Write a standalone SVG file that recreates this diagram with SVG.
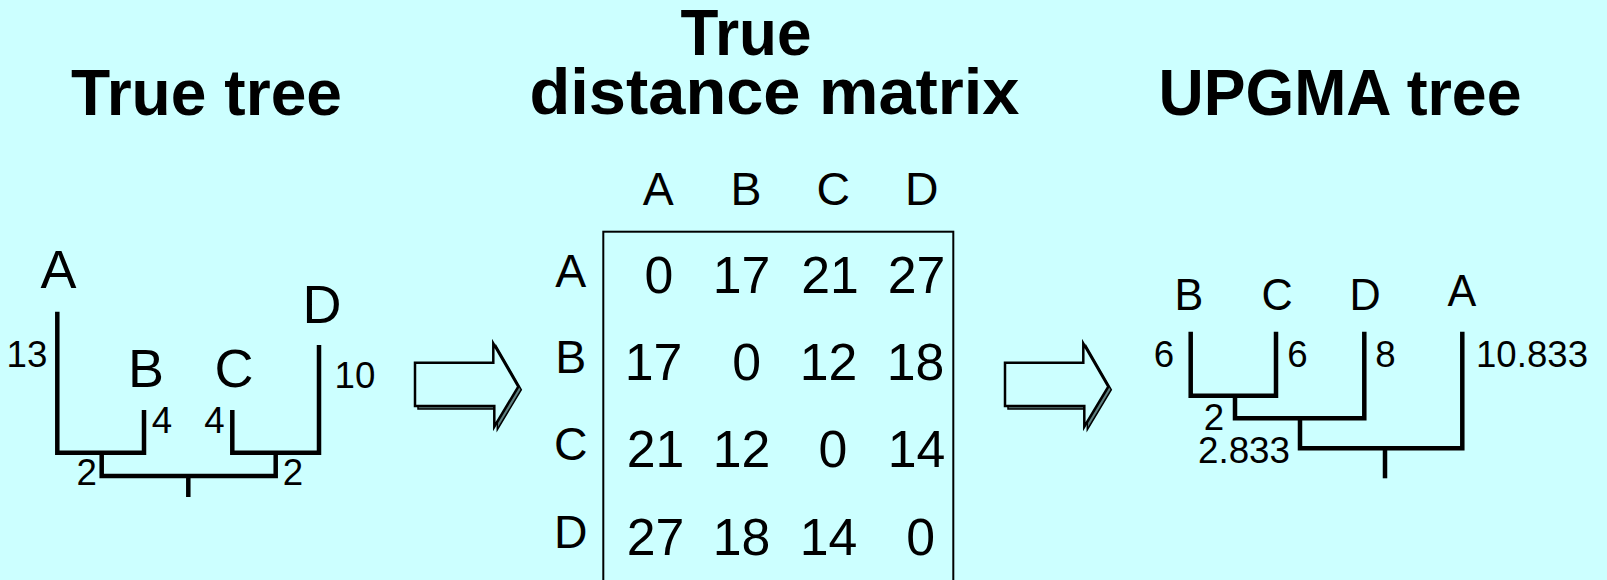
<svg xmlns="http://www.w3.org/2000/svg" width="1607" height="580" viewBox="0 0 1607 580">
<style>
text{font-family:"Liberation Sans",Arial,Helvetica,sans-serif;fill:#000}
.title{font-size:64px;font-weight:bold}
.leaf{font-size:54px;text-anchor:middle}
.leaf2{font-size:44px;text-anchor:middle}
.num{font-size:37px;text-anchor:middle}
.hdr{font-size:46px;text-anchor:middle}
.cell{font-size:52px;text-anchor:middle}
.branch{fill:none;stroke:#000;stroke-width:4.5;stroke-linejoin:miter;stroke-linecap:butt}
.arrowMain{fill:#CCFFFF;stroke:#000;stroke-width:2.5;stroke-linejoin:miter}
.arrowShadow{fill:#5E7E7E;stroke:#000;stroke-width:1.5;stroke-linejoin:miter}
</style>
<defs>
<polygon id="blockArrow" points="415,362.7 493.3,362.7 493.3,343.3 518.3,386.7 494.3,426.7 494.3,406 415,406"/>
</defs>
<rect x="0" y="0" width="1607" height="580" fill="#CCFFFF"/>

<g id="titles">
<text class="title" x="71" y="115" textLength="271" lengthAdjust="spacingAndGlyphs">True tree</text>
<text class="title" x="680.5" y="55" textLength="131" lengthAdjust="spacingAndGlyphs">True</text>
<text class="title" x="529.5" y="114" textLength="490" lengthAdjust="spacingAndGlyphs">distance matrix</text>
<text class="title" x="1158.5" y="115" textLength="363" lengthAdjust="spacingAndGlyphs">UPGMA tree</text>
</g>

<g id="true-tree">
<g id="true-tree-branches">
<path class="branch" d="M57.3,311.7 V452.7 H144 V410"/>
<path class="branch" d="M232.3,410 V452.7 H319 V345"/>
<path class="branch" d="M101.7,452.7 V476 H275.7 V452.7"/>
<path class="branch" d="M188.3,476 V497"/>
</g>
<g id="true-tree-A"><text class="leaf" x="58.5" y="288" textLength="36" lengthAdjust="spacingAndGlyphs">A</text></g>
<g id="true-tree-B"><text class="leaf" x="146" y="387" textLength="36" lengthAdjust="spacingAndGlyphs">B</text></g>
<g id="true-tree-C"><text class="leaf" x="234" y="387" textLength="39" lengthAdjust="spacingAndGlyphs">C</text></g>
<g id="true-tree-D"><text class="leaf" x="322" y="323" textLength="39" lengthAdjust="spacingAndGlyphs">D</text></g>
<g id="true-tree-lengths">
<text class="num" x="27" y="367" textLength="40.8" lengthAdjust="spacingAndGlyphs">13</text>
<text class="num" x="162" y="433" textLength="20.4" lengthAdjust="spacingAndGlyphs">4</text>
<text class="num" x="214.5" y="433" textLength="20.4" lengthAdjust="spacingAndGlyphs">4</text>
<text class="num" x="355" y="388" textLength="40.8" lengthAdjust="spacingAndGlyphs">10</text>
<text class="num" x="86.7" y="485" textLength="20.4" lengthAdjust="spacingAndGlyphs">2</text>
<text class="num" x="293" y="485" textLength="20.4" lengthAdjust="spacingAndGlyphs">2</text>
</g>
</g>

<g id="connectors">
<g id="arrow1">
<use href="#blockArrow" class="arrowShadow" transform="translate(3,3)"/>
<use href="#blockArrow" class="arrowMain"/>
</g>
<g id="arrow2" transform="translate(590,0)">
<use href="#blockArrow" class="arrowShadow" transform="translate(3,3)"/>
<use href="#blockArrow" class="arrowMain"/>
</g>
</g>

<g id="distance-matrix">
<rect x="603.3" y="231.7" width="350" height="400" fill="none" stroke="#000" stroke-width="2"/>
<g id="col-headers">
<text class="hdr" x="658.3" y="205" textLength="31" lengthAdjust="spacingAndGlyphs">A</text>
<text class="hdr" x="746" y="205" textLength="31" lengthAdjust="spacingAndGlyphs">B</text>
<text class="hdr" x="833.3" y="205" textLength="33.5" lengthAdjust="spacingAndGlyphs">C</text>
<text class="hdr" x="921.7" y="205" textLength="33.5" lengthAdjust="spacingAndGlyphs">D</text>
</g>
<g id="row-headers">
<text class="hdr" x="570.7" y="287" textLength="31" lengthAdjust="spacingAndGlyphs">A</text>
<text class="hdr" x="570.7" y="373" textLength="31" lengthAdjust="spacingAndGlyphs">B</text>
<text class="hdr" x="570.7" y="460" textLength="33.5" lengthAdjust="spacingAndGlyphs">C</text>
<text class="hdr" x="570.7" y="548" textLength="33.5" lengthAdjust="spacingAndGlyphs">D</text>
</g>
<g id="cells">
<text class="cell" x="659" y="293" textLength="28.8" lengthAdjust="spacingAndGlyphs">0</text>
<text class="cell" x="741.5" y="293" textLength="57.6" lengthAdjust="spacingAndGlyphs">17</text>
<text class="cell" x="830" y="293" textLength="57.6" lengthAdjust="spacingAndGlyphs">21</text>
<text class="cell" x="916.5" y="293" textLength="57.6" lengthAdjust="spacingAndGlyphs">27</text>

<text class="cell" x="653.5" y="380" textLength="57.6" lengthAdjust="spacingAndGlyphs">17</text>
<text class="cell" x="746.7" y="380" textLength="28.8" lengthAdjust="spacingAndGlyphs">0</text>
<text class="cell" x="828.5" y="380" textLength="57.6" lengthAdjust="spacingAndGlyphs">12</text>
<text class="cell" x="915.5" y="380" textLength="57.6" lengthAdjust="spacingAndGlyphs">18</text>

<text class="cell" x="655.5" y="467" textLength="57.6" lengthAdjust="spacingAndGlyphs">21</text>
<text class="cell" x="741.5" y="467" textLength="57.6" lengthAdjust="spacingAndGlyphs">12</text>
<text class="cell" x="833" y="467" textLength="28.8" lengthAdjust="spacingAndGlyphs">0</text>
<text class="cell" x="916.5" y="467" textLength="57.6" lengthAdjust="spacingAndGlyphs">14</text>

<text class="cell" x="655.5" y="555" textLength="57.6" lengthAdjust="spacingAndGlyphs">27</text>
<text class="cell" x="741.5" y="555" textLength="57.6" lengthAdjust="spacingAndGlyphs">18</text>
<text class="cell" x="828.5" y="555" textLength="57.6" lengthAdjust="spacingAndGlyphs">14</text>
<text class="cell" x="920.7" y="555" textLength="28.8" lengthAdjust="spacingAndGlyphs">0</text>
</g>
</g>

<g id="upgma-tree">
<g id="upgma-branches">
<path class="branch" d="M1190.7,331.7 V395.7 H1276 V331.7"/>
<path class="branch" d="M1235,395.7 V418.3 H1364.3 V331.7"/>
<path class="branch" d="M1300,418.3 V448.3 H1462.3 V331.7"/>
<path class="branch" d="M1385,448.3 V478.3"/>
</g>
<g id="upgma-B"><text class="leaf2" x="1189" y="310" textLength="28.8" lengthAdjust="spacingAndGlyphs">B</text></g>
<g id="upgma-C"><text class="leaf2" x="1277" y="310" textLength="31.2" lengthAdjust="spacingAndGlyphs">C</text></g>
<g id="upgma-D"><text class="leaf2" x="1365" y="310" textLength="31.2" lengthAdjust="spacingAndGlyphs">D</text></g>
<g id="upgma-A"><text class="leaf2" x="1462" y="306" textLength="28.8" lengthAdjust="spacingAndGlyphs">A</text></g>
<g id="upgma-lengths">
<text class="num" x="1164" y="367" textLength="20.4" lengthAdjust="spacingAndGlyphs">6</text>
<text class="num" x="1297.5" y="367" textLength="20.4" lengthAdjust="spacingAndGlyphs">6</text>
<text class="num" x="1385.5" y="367" textLength="20.4" lengthAdjust="spacingAndGlyphs">8</text>
<text class="num" x="1532" y="367" textLength="112" lengthAdjust="spacingAndGlyphs">10.833</text>
<text class="num" x="1214" y="430" textLength="20.4" lengthAdjust="spacingAndGlyphs">2</text>
<text class="num" x="1244" y="463" textLength="92" lengthAdjust="spacingAndGlyphs">2.833</text>
</g>
</g>
</svg>
